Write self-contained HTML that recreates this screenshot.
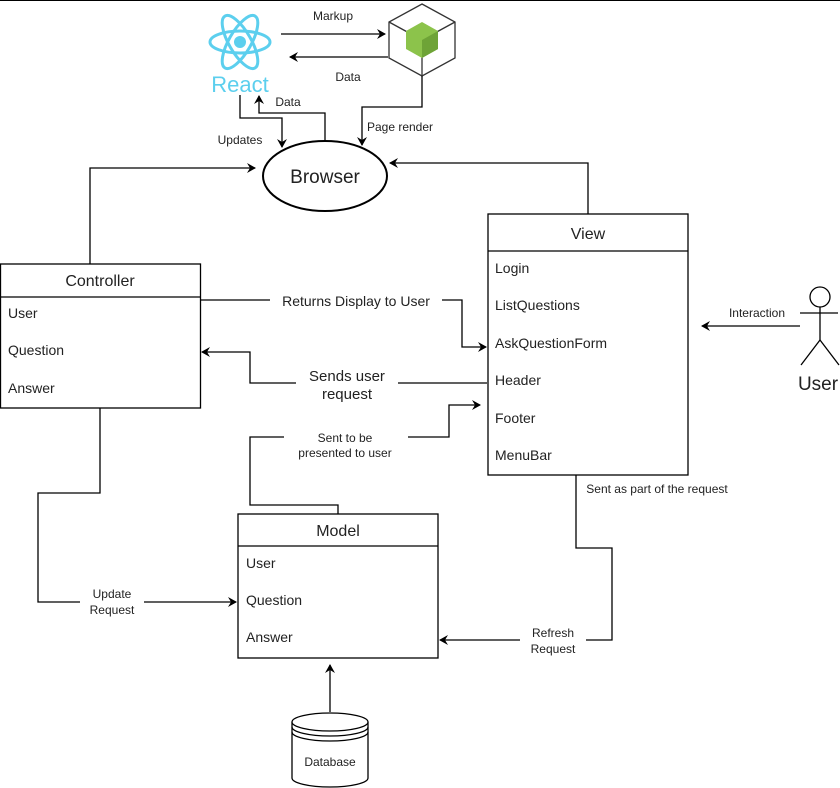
<!DOCTYPE html>
<html><head><meta charset="utf-8"><style>
body{margin:0;background:#fff}
svg{display:block;font-family:"Liberation Sans",sans-serif}
</style></head><body>
<svg width="840" height="788" viewBox="0 0 840 788">
<defs><marker id="a" markerWidth="10" markerHeight="10" refX="8" refY="5" orient="auto" markerUnits="userSpaceOnUse"><path d="M0,0 L9,5 L0,10 L3,5 Z" fill="#000"/></marker></defs>
<line x1="0" y1="0.5" x2="840" y2="0.5" stroke="#000" stroke-width="1"/>
<g fill="none" stroke="#000" stroke-width="1.3">
<!-- react logo -->
<g stroke="#5ccfee" stroke-width="3">
<ellipse cx="240" cy="42" rx="30" ry="11"/>
<ellipse cx="240" cy="42" rx="30" ry="11" transform="rotate(60 240 42)"/>
<ellipse cx="240" cy="42" rx="30" ry="11" transform="rotate(-60 240 42)"/>
</g>
<!-- cube -->
<polygon points="422,4 455,22 455,58 422,76 389,58 389,22" stroke="#333"/>
<line x1="389" y1="22" x2="422" y2="40" stroke="#333"/><line x1="455" y1="22" x2="422" y2="40" stroke="#333"/><line x1="422" y1="40" x2="422" y2="76" stroke="#333"/>
<line x1="281" y1="34" x2="385" y2="34" marker-end="url(#a)"/>
<line x1="388" y1="57" x2="290" y2="57" marker-end="url(#a)"/>
<polyline points="240,95 240,118 282,118 282,147" marker-end="url(#a)"/>
<polyline points="325,140 325,113 259,113 259,96" marker-end="url(#a)"/>
<polyline points="422,76 422,107 362,107 362,145" marker-end="url(#a)"/>
<polyline points="90,264 90,168 255,168" marker-end="url(#a)"/>
<polyline points="588,214 588,163 390,163" marker-end="url(#a)"/>
<polyline points="200,300 462,300 462,347 486,347" marker-end="url(#a)"/>
<polyline points="487,383 250,383 250,352 202,352" marker-end="url(#a)"/>
<polyline points="338,514 338,505 250,505 250,437 449,437 449,405 480,405" marker-end="url(#a)"/>
<polyline points="100,408 100,493 38,493 38,602 236,602" marker-end="url(#a)"/>
<polyline points="576,475 576,548 612,548 612,640 440,640" marker-end="url(#a)"/>
<line x1="800" y1="326" x2="702" y2="326" marker-end="url(#a)"/>
<line x1="330" y1="712" x2="330" y2="665" marker-end="url(#a)"/>
<!-- user -->
<circle cx="820" cy="297" r="10"/>
<line x1="820" y1="307" x2="820" y2="340"/><line x1="800" y1="313" x2="838" y2="313"/>
<line x1="820" y1="340" x2="801" y2="365"/><line x1="820" y1="340" x2="839" y2="365"/>
<!-- database -->
<path d="M292,722 L292,778 A38,9 0 0 0 368,778 L368,722"/>
<ellipse cx="330" cy="722" rx="38" ry="9" fill="#fff"/>
<path d="M292,727 A38,9 0 0 0 368,727 M292,732 A38,9 0 0 0 368,732"/>
<!-- browser -->
<ellipse cx="325" cy="176" rx="62" ry="35" fill="#fff" stroke-width="2"/>
<!-- boxes -->
<rect x="0.5" y="264" width="200" height="144" fill="#fff"/><line x1="0" y1="297" x2="200" y2="297"/>
<rect x="488" y="214" width="200" height="261" fill="#fff"/><line x1="488" y1="251" x2="688" y2="251"/>
<rect x="238" y="514" width="200" height="144" fill="#fff"/><line x1="238" y1="546" x2="438" y2="546"/>
</g>
<polygon points="422,22 438,31 438,49 422,58 406,49 406,31" fill="#8cc34b"/>
<polygon points="422,40 438,31 438,49 422,58" fill="#6ea337"/>
<circle cx="240" cy="42" r="6" fill="#5ccfee"/>
<text x="240" y="92" font-size="22" fill="#5ccfee" text-anchor="middle">React</text>
<g font-size="12" fill="#222" text-anchor="middle">
<text x="333" y="20">Markup</text>
<text x="348" y="81">Data</text>
<text x="288" y="106">Data</text>
<text x="240" y="144">Updates</text>
<text x="400" y="131">Page render</text>
<text x="757" y="317">Interaction</text>
<text x="657" y="493">Sent as part of the request</text>
</g>
<text x="325" y="183" font-size="19" text-anchor="middle" fill="#222">Browser</text>
<g font-size="14" fill="#222">
<text x="100" y="286" font-size="16" text-anchor="middle">Controller</text>
<text x="8" y="318">User</text><text x="8" y="355">Question</text><text x="8" y="393">Answer</text>
<text x="588" y="239" font-size="16" text-anchor="middle">View</text>
<text x="495" y="273">Login</text><text x="495" y="310">ListQuestions</text><text x="495" y="348">AskQuestionForm</text>
<text x="495" y="385">Header</text><text x="495" y="423">Footer</text><text x="495" y="460">MenuBar</text>
<text x="338" y="536" font-size="16" text-anchor="middle">Model</text>
<text x="246" y="568">User</text><text x="246" y="605">Question</text><text x="246" y="642">Answer</text>
</g>
<rect x="270" y="292" width="172" height="18" fill="#fff"/>
<text x="356" y="306" font-size="14" text-anchor="middle" fill="#222">Returns Display to User</text>
<rect x="296" y="366" width="102" height="38" fill="#fff"/>
<text x="347" y="381" font-size="15" text-anchor="middle" fill="#222">Sends user</text>
<text x="347" y="399" font-size="15" text-anchor="middle" fill="#222">request</text>
<rect x="284" y="428" width="124" height="34" fill="#fff"/>
<text x="345" y="442" font-size="12" text-anchor="middle" fill="#222">Sent to be</text>
<text x="345" y="457" font-size="12" text-anchor="middle" fill="#222">presented to user</text>
<rect x="80" y="585" width="64" height="34" fill="#fff"/>
<text x="112" y="598" font-size="12" text-anchor="middle" fill="#222">Update</text>
<text x="112" y="614" font-size="12" text-anchor="middle" fill="#222">Request</text>
<rect x="520" y="624" width="66" height="34" fill="#fff"/>
<text x="553" y="637" font-size="12" text-anchor="middle" fill="#222">Refresh</text>
<text x="553" y="653" font-size="12" text-anchor="middle" fill="#222">Request</text>
<text x="818" y="390" font-size="19" text-anchor="middle" fill="#222">User</text>
<text x="330" y="766" font-size="12" text-anchor="middle" fill="#222">Database</text>
</svg>
</body></html>
